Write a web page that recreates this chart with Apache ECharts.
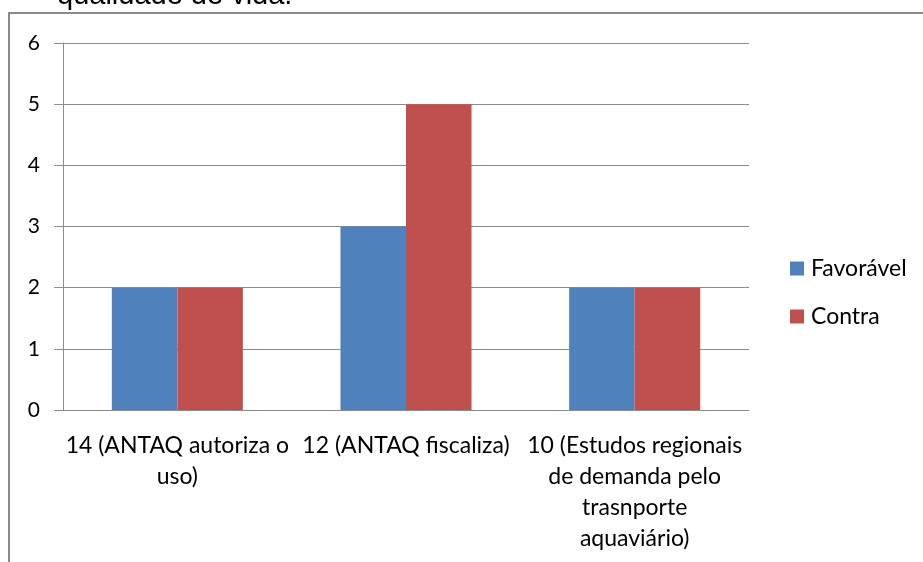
<!DOCTYPE html>
<html>
<head>
<meta charset="utf-8">
<script src="https://cdn.jsdelivr.net/npm/echarts@6/dist/echarts.min.js"></script>
<style>html,body{margin:0;padding:0;background:#fff}#c{width:923px;height:562px}</style>
</head>
<body>
<div id="c"></div>
<script>
const categories = ["14 (ANTAQ autoriza o\nuso)", "12 (ANTAQ fiscaliza)", "10 (Estudos regionais\nde demanda pelo\ntrasnporte\naquaviário)"];
const favoravel = [2, 3, 2];
const contra = [2, 5, 2];
const seriesNames = ["Favorável", "Contra"];
const titleText = "qualidade de vida.";

const chart = echarts.init(document.getElementById('c'), null, {renderer: 'canvas'});
const font = 'Lato, "Open Sans", sans-serif';
chart.setOption({
  animation: false,
  backgroundColor: '#fff',
  graphic: [
    {type: 'rect', shape: {x: 9, y: 13, width: 1200, height: 1200}, style: {fill: 'none', stroke: '#8a8a8a', lineWidth: 2}, silent: true},
    {type: 'text', left: 57, top: -19, style: {text: titleText, font: '29px "Liberation Sans", Arial, sans-serif', fill: '#000'}, silent: true}
  ],
  grid: {left: 63, right: 174, top: 43, bottom: 152},
  legend: {
    orient: 'vertical', left: 790, top: 257, padding: 0, itemWidth: 14, itemHeight: 14, itemGap: 25,
    icon: 'rect', textStyle: {fontFamily: font, fontSize: 23, color: '#000', padding: [0, 0, 0, 2]},
    data: seriesNames
  },
  xAxis: {
    type: 'category', data: categories,
    axisLine: {lineStyle: {color: '#8c8c8c', width: 1}},
    axisTick: {length: 9, lineStyle: {color: '#8c8c8c'}},
    axisLabel: {fontFamily: font, fontSize: 23, color: '#000', lineHeight: 31, margin: 20, interval: 0}
  },
  yAxis: {
    type: 'value', min: 0, max: 6, interval: 1,
    axisLine: {show: true, lineStyle: {color: '#8c8c8c'}},
    axisTick: {show: true, length: 9, lineStyle: {color: '#8c8c8c'}},
    splitLine: {lineStyle: {color: '#8c8c8c', width: 1}},
    axisLabel: {fontFamily: font, fontSize: 21, color: '#000', margin: 23}
  },
  series: [
    {name: seriesNames[0], type: 'bar', data: favoravel, barGap: '0%', barCategoryGap: '42.7%', itemStyle: {color: '#4f81bd'}},
    {name: seriesNames[1], type: 'bar', data: contra, barGap: '0%', barCategoryGap: '42.7%', itemStyle: {color: '#c0504d'}}
  ]
});
</script>
</body>
</html>
